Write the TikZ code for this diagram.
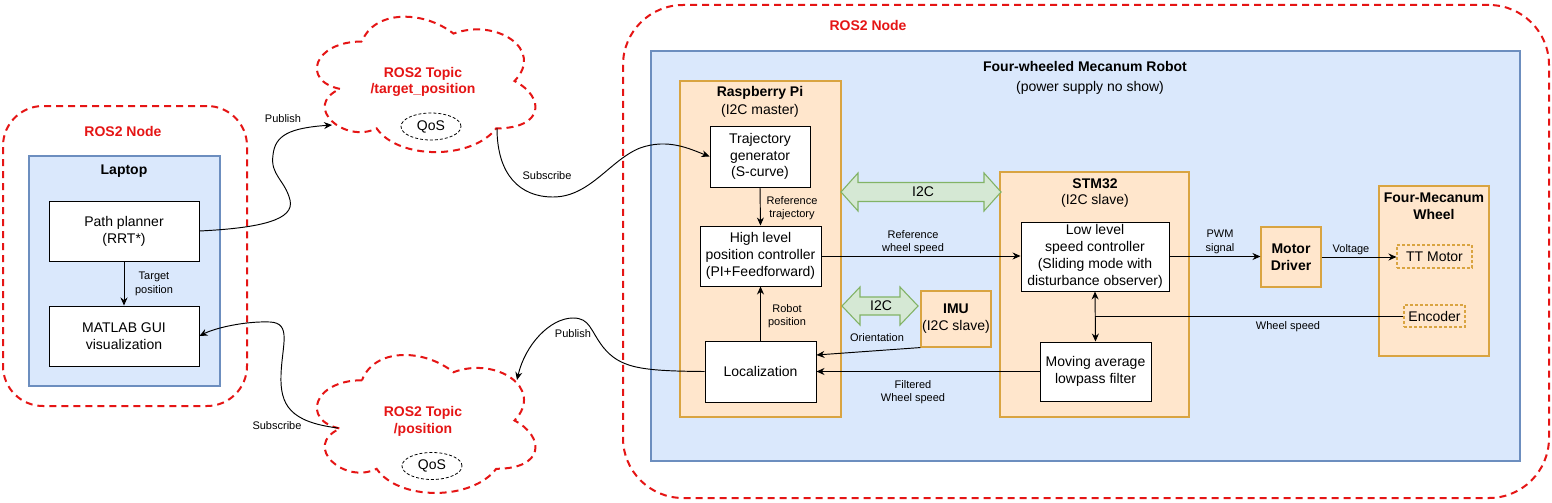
\documentclass[tikz,border=0pt]{standalone}
\usepackage{fontspec}
\setmainfont{Liberation Sans}
\usetikzlibrary{arrows.meta,shapes.geometric}
\definecolor{rosred}{HTML}{E51515}
\definecolor{bluefill}{HTML}{DAE8FC}
\definecolor{bluedraw}{HTML}{6C8EBF}
\definecolor{orfill}{HTML}{FFE6CC}
\definecolor{ordraw}{HTML}{D9A441}
\definecolor{grfill}{HTML}{D5E8D4}
\definecolor{grdraw}{HTML}{82B366}
\tikzset{
  rosdash/.style={draw=rosred, line width=2pt, dash pattern=on 7pt off 5pt},
  rosnode/.style={rosdash, inner sep=0pt},
  bluebox/.style={draw=bluedraw, fill=bluefill, line width=1.5pt, inner sep=0pt},
  orbox/.style={draw=ordraw, fill=orfill, line width=1.1pt, inner sep=0pt, align=center},
  whitebox/.style={draw=black, fill=white, line width=0.95pt, align=center, inner sep=0pt},
  subbox/.style={draw=ordraw, line width=1.1pt, dash pattern=on 3pt off 2pt, inner sep=0pt},
  edgelbl/.style={font=\fontsize{11}{13.5}\selectfont, align=center, inner sep=0pt},
  boxtitle/.style={font=\bfseries\fontsize{14}{16.8}\selectfont, align=center, inner sep=0pt},
  redtitle/.style={boxtitle, text=rosred},
  plain/.style={font=\fontsize{14}{16.8}\selectfont, align=center, inner sep=0pt},
  conn/.style={line width=0.95pt, -{Stealth[length=8pt,width=7pt]}},
  dconn/.style={line width=0.95pt, {Stealth[length=8pt,width=7pt]}-{Stealth[length=8pt,width=7pt]}},
  i2carrow/.style={draw=grdraw, fill=grfill, line width=1.1pt},
  qos/.style={draw=black, line width=0.8pt, dash pattern=on 3pt off 2pt, ellipse, inner sep=0pt,
     minimum width=60pt, minimum height=27pt, font=\fontsize{14}{16.8}\selectfont}
}
\newcommand\dcloud[4]{%
\begin{scope}[shift={(#1,#2)},x=#3pt,y=-#4pt]
\draw[rosdash] (0.25,0.25) .. controls (0.05,0.25) and (0,0.5) .. (0.16,0.55)
 .. controls (0,0.66) and (0.18,0.9) .. (0.31,0.8)
 .. controls (0.4,1) and (0.7,1) .. (0.8,0.8)
 .. controls (1,0.8) and (1,0.6) .. (0.875,0.5)
 .. controls (1,0.3) and (0.8,0.1) .. (0.625,0.2)
 .. controls (0.5,0.05) and (0.3,0.05) .. (0.25,0.25) -- cycle;
\end{scope}}
\begin{document}
\begin{tikzpicture}[x=1pt,y=-1pt, every node/.style={font=\fontsize{14}{16.8}\selectfont}]
\useasboundingbox[fill=white] (0,0) rectangle (1552,503);

% ---------- left ROS2 node ----------
\node[rosnode, rounded corners=40pt, minimum width=244pt, minimum height=300pt] (rosL) at (125,256) {};
\node[redtitle] (rosLt) at (123,131) {ROS2 Node};
\node[bluebox, minimum width=191pt, minimum height=230pt] (laptop) at (124.5,271) {};
\node[boxtitle] (laptopt) at (124,171) {Laptop};
\node[whitebox, minimum width=150pt, minimum height=60pt] (planner) at (124,231) {Path planner\\(RRT*)};
\node[whitebox, minimum width=150pt, minimum height=60pt] (gui) at (124,336) {MATLAB GUI\\visualization};
\draw[conn] (planner.south) -- (gui.north);
\node[edgelbl] (ltp) at (154,284) {Target\\position};

% ---------- right ROS2 node ----------
\node[rosnode, rounded corners=60pt, minimum width=926pt, minimum height=493pt] (rosR) at (1086,251.5) {};
\node[redtitle] (rosRt) at (868,25) {ROS2 Node};
\node[bluebox, minimum width=869pt, minimum height=410pt] (robot) at (1085.5,256) {};
\node[boxtitle] (robott) at (1085,66) {Four-wheeled Mecanum Robot};
\node[plain] (robots) at (1090,88) {(power supply no show)};

% Raspberry Pi
\node[orbox, minimum width=161pt, minimum height=336pt] (rpi) at (760.5,249) {};
\node[boxtitle] (rpit) at (760,93) {Raspberry Pi};
\node[plain] (rpis) at (760,111) {(I2C master)};
\node[whitebox, minimum width=100pt, minimum height=61pt] (traj) at (760,156.5) {Trajectory\\generator\\(S-curve)};
\node[whitebox, minimum width=121pt, minimum height=60pt] (hl) at (760.5,256) {High level\\position controller\\(PI+Feedforward)};
\node[whitebox, minimum width=111pt, minimum height=61pt] (loc) at (760.5,371.5) {Localization};
\draw[conn] (traj.south) -- (hl.north);
\node[edgelbl] (lrt) at (792,208) {Reference\\trajectory};
\draw[conn] (loc.north) -- (hl.south);
\node[edgelbl] (lrp) at (787,316) {Robot\\position};

% STM32
\node[orbox, minimum width=189pt, minimum height=245pt] (stm) at (1094.5,294.5) {};
\node[boxtitle] (stmt) at (1095,184) {STM32};
\node[plain] (stms) at (1095,201) {(I2C slave)};
\node[whitebox, minimum width=148pt, minimum height=69pt] (low) at (1095,256.5) {Low level\\speed controller\\(Sliding mode with\\disturbance observer)};
\node[whitebox, minimum width=111pt, minimum height=59pt] (mov) at (1095.5,371.5) {Moving average\\lowpass filter};
\draw[dconn] (low.south) -- (mov.north);

% IMU
\node[orbox, minimum width=70pt, minimum height=56pt] (imu) at (956,319) {\textbf{IMU}\\(I2C slave)};

% I2C arrows
\draw[i2carrow] (841,192) -- (858,173) -- (858,182.5) -- (984,182.5) -- (984,173) -- (1001,192)
  -- (984,211) -- (984,201.5) -- (858,201.5) -- (858,211) -- cycle;
\node[plain] (i2ca) at (923,192) {I2C};
\draw[i2carrow] (842,306) -- (860,287) -- (860,297) -- (900,297) -- (900,287) -- (918,306)
  -- (900,325) -- (900,315) -- (860,315) -- (860,325) -- cycle;
\node[plain] (i2cb) at (881,306) {I2C};

% motor driver and wheel
\node[orbox, minimum width=60pt, minimum height=60pt, font=\bfseries\fontsize{14}{16.8}\selectfont] (md) at (1291,257) {Motor\\Driver};
\node[orbox, minimum width=110pt, minimum height=170pt] (wheel) at (1434,271) {};
\node[boxtitle] (wheelt) at (1434,206.5) {Four-Mecanum\\Wheel};
\node[subbox, minimum width=75pt, minimum height=23pt] (tt) at (1434.5,256.5) {TT Motor};
\node[subbox, minimum width=61pt, minimum height=22pt] (enc) at (1434.5,316) {Encoder};

% connectors inside robot
\draw[conn] (hl.east) -- (hl.east -| low.west);
\node[edgelbl] (lrws) at (913,242) {Reference\\wheel speed};
\draw[conn] (mov.west) -- (mov.west -| loc.east);
\node[edgelbl] (lfws) at (913,392) {Filtered\\Wheel speed};
\draw[conn] (imu.south west) -- ([yshift=16.5pt]loc.east);
\node[edgelbl] (lor) at (877,338) {Orientation};
\draw[conn] (low.east) -- (low.east -| md.west);
\node[edgelbl] (lpwm) at (1220,242) {PWM\\signal};
\draw[conn] (md.east) -- (md.east -| tt.west);
\node[edgelbl] (lvol) at (1351,250) {Voltage};
\coordinate (jn) at (enc.west -| low.south);
\draw[line width=0.95pt] (enc.west) -- (jn);
\node[edgelbl] (lws) at (1288,327) {Wheel speed};

% ---------- clouds ----------
\dcloud{301}{2}{244}{158}
\node[redtitle] (tct) at (423,82) {ROS2 Topic\\/target\_position};
\node[qos] (tq) at (431,126.5) {QoS};
\coordinate (tcin) at (332,125);
\coordinate (tcout) at (497,128);

\dcloud{301}{340}{244}{161}
\node[redtitle] (bct) at (423,421.5) {ROS2 Topic\\/position};
\node[qos] (bq) at (432,466) {QoS};
\coordinate (bcin) at (517,380);
\coordinate (bcout) at (338,428);

% ---------- curved ROS connectors ----------
\draw[conn] (planner.east) .. controls (260,228) and (295,220) .. (290,200)
  .. controls (285,180) and (270,175) .. (273,155)
  .. controls (275,135) and (290,128) .. (tcin);
\node[edgelbl] (lpub1) at (283,119) {Publish};

\draw[conn] (tcout) .. controls (497,175) and (520,197) .. (553,197)
  .. controls (590,197) and (610,160) .. (640,148)
  .. controls (668,138) and (690,149) .. (traj.west);
\node[edgelbl] (lsub1) at (547,176) {Subscribe};

\draw[conn] (loc.west) .. controls (640,371) and (620,368) .. (603,347)
  .. controls (590,330) and (590,318) .. (573,318)
  .. controls (550,318) and (525,345) .. (bcin);
\node[edgelbl] (lpub2) at (573,334) {Publish};

\draw[conn] (bcout) .. controls (290,422) and (280,405) .. (281,375)
  .. controls (282,345) and (292,323) .. (270,322)
  .. controls (245,321) and (215,328) .. (gui.east);
\node[edgelbl] (lsub2) at (277,426) {Subscribe};
\end{tikzpicture}
\end{document}
